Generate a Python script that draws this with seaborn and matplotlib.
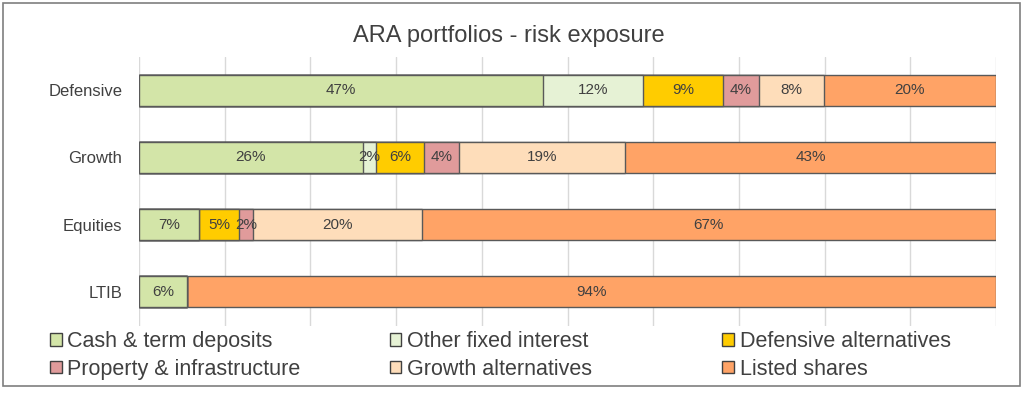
import numpy as np
import pandas as pd
import matplotlib
matplotlib.use("Agg")
import matplotlib.pyplot as plt
import seaborn as sns
from matplotlib.patches import Rectangle, Patch

portfolios = ["Defensive", "Growth", "Equities", "LTIB"]
series_names = ["Cash & term deposits", "Other fixed interest", "Defensive alternatives",
                "Property & infrastructure", "Growth alternatives", "Listed shares"]
cash = [47.1, 26.1, 7.0, 5.6]
other_fixed = [11.7, 1.6, 0.0, 0.0]
def_alt = [9.4, 5.6, 4.7, 0.0]
prop_infra = [4.1, 4.0, 1.6, 0.0]
growth_alt = [7.6, 19.4, 19.7, 0.0]
listed = [20.1, 43.3, 67.0, 94.4]
colors = ["#D3E5A8", "#E6F2D5", "#FFCC00", "#E09B9B", "#FEDDBA", "#FFA366"]

series = [cash, other_fixed, def_alt, prop_infra, growth_alt, listed]

sns.set_theme(style="white")
plt.rcParams['font.family'] = ['Liberation Sans', 'DejaVu Sans']

fig = plt.figure(figsize=(10.24, 3.98), dpi=100)
ax = fig.add_axes([0.1357, 0.182, 0.8370, 0.676])

cums = np.cumsum(np.array(series), axis=0)
for k in range(len(series) - 1, -1, -1):
    d = pd.DataFrame({"portfolio": portfolios, "value": cums[k]})
    sns.barplot(data=d, y="portfolio", x="value", orient="h", color=colors[k],
                saturation=1, width=0.46, edgecolor="#595959", linewidth=1.0,
                ax=ax, zorder=2)

for k in range(len(series)):
    for i, p in enumerate(portfolios):
        v = series[k][i]
        if v <= 0:
            continue
        xc = cums[k][i] - v / 2
        ax.text(xc, i, f"{round(v):d}%", ha="center", va="center",
                fontsize=11, color="#404040", zorder=5)

ax.set_xlim(0, 100)
ax.set_ylim(3.5, -0.5)
ax.set_xticks(np.arange(0, 101, 10))
ax.set_xticklabels([])
ax.tick_params(axis="x", length=0)
ax.tick_params(axis="y", length=0, labelsize=12, labelcolor="#404040", pad=12)
ax.xaxis.grid(True, color="#D9D9D9", linewidth=1, zorder=0)
ax.set_axisbelow(True)
ax.set_xlabel("")
ax.set_ylabel("")
for s in ax.spines.values():
    s.set_visible(False)

fig.text(0.497, 0.91, "ARA portfolios - risk exposure", ha="center", va="center",
         fontsize=17, color="#404040")

handles = [Patch(facecolor=c, edgecolor="#404040", linewidth=1.0) for c in colors]
col_x = [0.038, 0.370, 0.695]
for j in range(3):
    fig.legend([handles[j], handles[j + 3]], [series_names[j], series_names[j + 3]],
               loc="upper left", bbox_to_anchor=(col_x[j], 0.195), ncol=1,
               frameon=False, fontsize=15.5, handlelength=0.55, handleheight=0.55,
               handletextpad=0.25, labelspacing=0.3, borderpad=0,
               labelcolor="#404040")

fig.patches.append(Rectangle((0.003, 0.03), 0.993, 0.962, transform=fig.transFigure,
                             fill=False, edgecolor="#7F7F7F", linewidth=1.2))

fig.savefig("out.png", dpi=100)
